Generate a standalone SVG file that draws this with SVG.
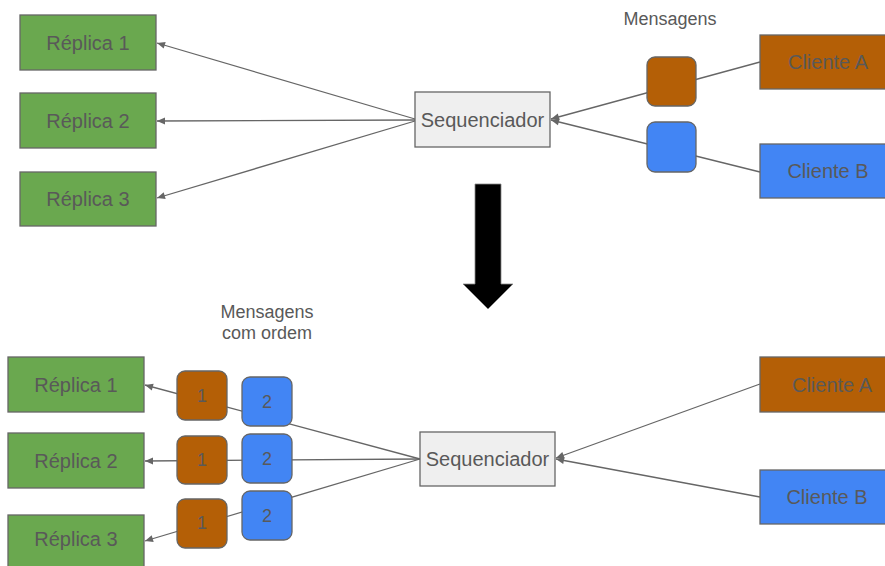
<svg xmlns="http://www.w3.org/2000/svg" width="885" height="566" viewBox="0 0 885 566">
<style>
text{font-family:"Liberation Sans",Arial,sans-serif;fill:#595959;text-anchor:middle}
.lbl{font-size:20px}
.cap{font-size:18px}
.box{stroke:#666;stroke-width:1.3}
.green{fill:#6aa84f}
.brown{fill:#b45f06}
.blue{fill:#4285f4}
.grey{fill:#efefef}
.conn line{stroke:#666;stroke-width:1.3;fill:none}
.arr{marker-end:url(#ah)}
</style>
<defs>
<marker id="ah" markerUnits="userSpaceOnUse" markerWidth="10" markerHeight="10" viewBox="0 0 10 10" refX="9" refY="5" orient="auto">
<path d="M1,1.5 L9,5 L1,8.5 Z" fill="#666"/>
</marker>
</defs>

<g id="connectors" class="conn">
<line class="arr" x1="415" y1="119" x2="157" y2="43"/>
<line class="arr" x1="415" y1="120" x2="157" y2="121"/>
<line class="arr" x1="415" y1="121" x2="157" y2="198"/>
<line class="arr" x1="760" y1="62" x2="551" y2="119"/>
<line class="arr" x1="760" y1="172" x2="551" y2="120"/>
<line class="arr" x1="420" y1="459" x2="145" y2="385"/>
<line class="arr" x1="420" y1="459" x2="145" y2="461"/>
<line class="arr" x1="420" y1="459" x2="145" y2="541"/>
<line class="arr" x1="760" y1="384" x2="556" y2="458"/>
<line class="arr" x1="760" y1="497" x2="556" y2="459"/>
</g>

<g id="replica1-top"><rect class="box green" x="20" y="15" width="136" height="55"/><text class="lbl" x="88" y="50">Réplica 1</text></g>
<g id="replica2-top"><rect class="box green" x="20" y="93" width="136" height="55"/><text class="lbl" x="88" y="128">Réplica 2</text></g>
<g id="replica3-top"><rect class="box green" x="20" y="172" width="136" height="54"/><text class="lbl" x="88" y="206">Réplica 3</text></g>
<g id="seq-top"><rect class="box grey" x="415" y="92" width="135" height="55"/><text class="lbl" x="482.5" y="126.5">Sequenciador</text></g>
<g id="msg-label-top"><text class="cap" x="670" y="25">Mensagens</text></g>
<g id="msg-a-top"><rect class="box brown" x="647" y="57" width="49" height="49" rx="8"/></g>
<g id="msg-b-top"><rect class="box blue" x="647" y="122" width="49" height="50" rx="8"/></g>
<g id="clienteA-top"><rect class="box brown" x="760" y="35" width="136" height="54"/><text class="lbl" x="828" y="69">Cliente A</text></g>
<g id="clienteB-top"><rect class="box blue" x="760" y="144" width="136" height="54"/><text class="lbl" x="828" y="178">Cliente B</text></g>

<g id="big-arrow"><polygon points="475,184 501,184 501,284 513,284 488,309 463,284 475,284" fill="#000" stroke="#888" stroke-width="0.8"/></g>

<g id="msg-label-bottom"><text class="cap" x="267" y="318">Mensagens</text><text class="cap" x="267" y="339">com ordem</text></g>
<g id="replica1-bot"><rect class="box green" x="8" y="357" width="136" height="55"/><text class="lbl" x="76" y="391.5">Réplica 1</text></g>
<g id="replica2-bot"><rect class="box green" x="8" y="433" width="136" height="55"/><text class="lbl" x="76" y="467.5">Réplica 2</text></g>
<g id="replica3-bot"><rect class="box green" x="8" y="515" width="136" height="56"/><text class="lbl" x="76" y="546">Réplica 3</text></g>
<g id="m1-r1"><rect class="box brown" x="177" y="371" width="50" height="49" rx="8"/><text class="cap" x="202" y="402">1</text></g>
<g id="m2-r1"><rect class="box blue" x="242" y="377" width="50" height="49" rx="8"/><text class="cap" x="267" y="408">2</text></g>
<g id="m1-r2"><rect class="box brown" x="177" y="436" width="50" height="48" rx="8"/><text class="cap" x="202" y="466">1</text></g>
<g id="m2-r2"><rect class="box blue" x="242" y="434" width="50" height="49" rx="8"/><text class="cap" x="267" y="465">2</text></g>
<g id="m1-r3"><rect class="box brown" x="177" y="499" width="50" height="49" rx="8"/><text class="cap" x="202" y="529">1</text></g>
<g id="m2-r3"><rect class="box blue" x="242" y="491" width="50" height="49" rx="8"/><text class="cap" x="267" y="522">2</text></g>
<g id="seq-bot"><rect class="box grey" x="420" y="432" width="135" height="54"/><text class="lbl" x="487.5" y="466">Sequenciador</text></g>
<g id="clienteA-bot"><rect class="box brown" x="760" y="357" width="136" height="55"/><text class="lbl" x="832" y="391.5">Cliente A</text></g>
<g id="clienteB-bot"><rect class="box blue" x="760" y="470" width="136" height="54"/><text class="lbl" x="827" y="504">Cliente B</text></g>
</svg>
